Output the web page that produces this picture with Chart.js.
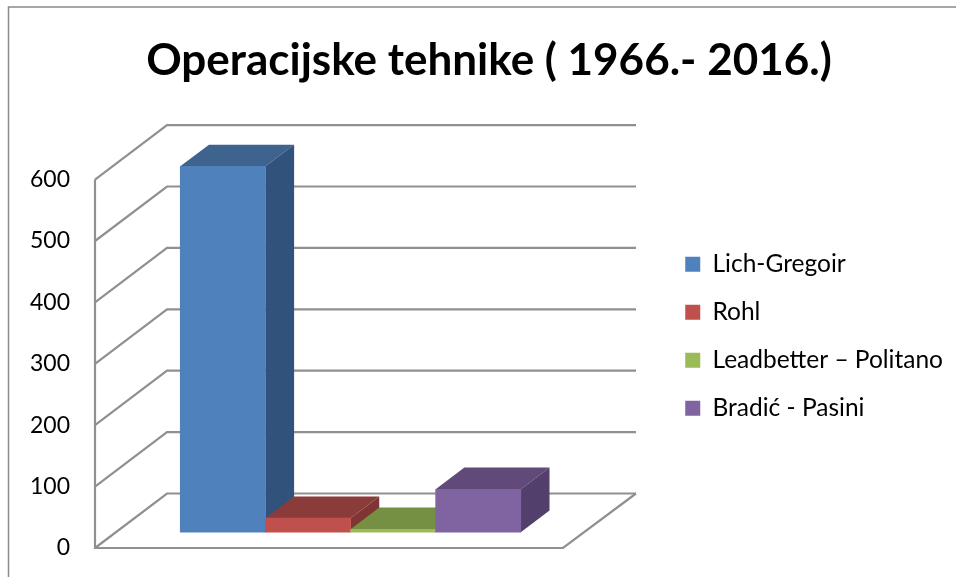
<!DOCTYPE html>
<html>
<head>
<meta charset="utf-8">
<title>Operacijske tehnike</title>
<script src="https://cdn.jsdelivr.net/npm/chart.js@4"></script>
<style>
  html, body { margin: 0; padding: 0; background: #fff; overflow: hidden; }
  #wrap { width: 956px; height: 577px; }
</style>
</head>
<body>
<div id="wrap"><canvas id="grafico" width="956" height="577"></canvas></div>
<script>
const tehnike = ['Lich-Gregoir', 'Rohl', 'Leadbetter \u2013 Politano', 'Bradi\u0107 - Pasini'];
const brojOperacija = [596, 23, 5, 70];
const boje = ['#4F81BD', '#C0504D', '#9BBB59', '#8064A2'];
const bojeVrh = ['#3E638E', '#8B3B39', '#759042', '#61497A'];
const bojeStrana = ['#31527A', '#7E3533', '#6A8339', '#533F6B'];

// 3D pomak
const dubinaX = 72, dubinaY = 54.5;
const stupacX = 28.7, stupacY = 21.7;
const sirinaPoda = 468;
const siva = '#909090';

const okvir = {
  id: 'okvir',
  beforeDraw(chart) {
    const c = chart.ctx;
    c.save();
    c.strokeStyle = '#8A8A8A';
    c.lineWidth = 1.5;
    c.strokeRect(8.5, 7, 1100, 800);
    c.restore();
  }
};

// zidovi, pod i bocne strane stupaca
const prostor = {
  id: 'prostor',
  beforeDatasetsDraw(chart) {
    const c = chart.ctx, y = chart.scales.y;
    const x0 = chart.chartArea.left;
    const crta = (pts) => {
      c.beginPath();
      pts.forEach((p, i) => i ? c.lineTo(p[0], p[1]) : c.moveTo(p[0], p[1]));
      c.stroke();
    };
    c.save();
    c.strokeStyle = siva;
    c.lineWidth = 2.2;
    y.ticks.forEach(t => {
      const py = y.getPixelForValue(t.value);
      crta([[x0, py], [x0 + dubinaX, py - dubinaY], [x0 + dubinaX + sirinaPoda + 1, py - dubinaY]]);
    });
    const y0 = y.getPixelForValue(0);
    crta([[x0, y.getPixelForValue(600)], [x0, y0], [x0 + sirinaPoda, y0], [x0 + sirinaPoda + dubinaX + 1, y0 - dubinaY]]);

    chart.getDatasetMeta(0).data.forEach((b, i) => {
      const l = b.x - b.width / 2, r = b.x + b.width / 2;
      c.fillStyle = bojeVrh[i];
      c.beginPath();
      c.moveTo(l, b.y);
      c.lineTo(l + stupacX, b.y - stupacY);
      c.lineTo(r + stupacX, b.y - stupacY);
      c.lineTo(r, b.y);
      c.closePath();
      c.fill();
      c.fillStyle = bojeStrana[i];
      c.beginPath();
      c.moveTo(r, b.y);
      c.lineTo(r + stupacX, b.y - stupacY);
      c.lineTo(r + stupacX, b.base - stupacY);
      c.lineTo(r, b.base);
      c.closePath();
      c.fill();
    });
    c.restore();
  }
};

const config = {
  type: 'bar',
  data: {
    datasets: [{
      label: 'Operacijske tehnike',
      data: brojOperacija.map((v, i) => ({ x: i, y: v })),
      backgroundColor: boje,
      borderWidth: 0,
      barPercentage: 1,
      categoryPercentage: 1,
      clip: false,
      yAxisID: 'yStupci'
    }]
  },
  options: {
    responsive: false,
    animation: false,
    layout: { autoPadding: false, padding: { left: 25, right: 3, top: 0, bottom: 29 } },
    scales: {
      x: { type: 'linear', display: false, offset: false, min: -1.5015, max: 5.1555, afterFit(s) { s.height = 0; } },
      y: {
        position: 'left',
        min: 0,
        max: 600,
        grid: { display: false, tickLength: 10 },
        border: { display: false },
        afterFit(s) { s.width = 70; },
        ticks: { stepSize: 100, padding: 15, color: '#000', font: { family: 'Lato', size: 23 } }
      },
      yStupci: { display: false, position: 'left', min: -25.6, max: 574.4, afterFit(s) { s.width = 0; } }
    },
    plugins: {
      tooltip: { enabled: false },
      title: {
        display: true,
        text: 'Operacijske tehnike ( 1966.- 2016.)',
        color: '#000',
        font: { family: 'Lato', size: 44, weight: 'bold' },
        padding: { top: 34, bottom: 92.8 }
      },
      legend: {
        position: 'right',
        align: 'start',
        maxWidth: 330,
        title: { display: true, text: ' ', padding: { top: 0, bottom: 202 }, font: { family: 'Lato', size: 22 } },
        labels: {
          boxWidth: 15,
          boxHeight: 15,
          padding: 23.5,
          font: { family: 'Lato', size: 24.5 },
          generateLabels() {
            return tehnike.map((t, i) => ({ text: t, fillStyle: boje[i], strokeStyle: boje[i], fontColor: '#000', lineWidth: 0, hidden: false, index: i }));
          }
        }
      }
    }
  },
  plugins: [okvir, prostor]
};

const myGraph = new Chart(document.getElementById('grafico'), config);
</script>
</body>
</html>
